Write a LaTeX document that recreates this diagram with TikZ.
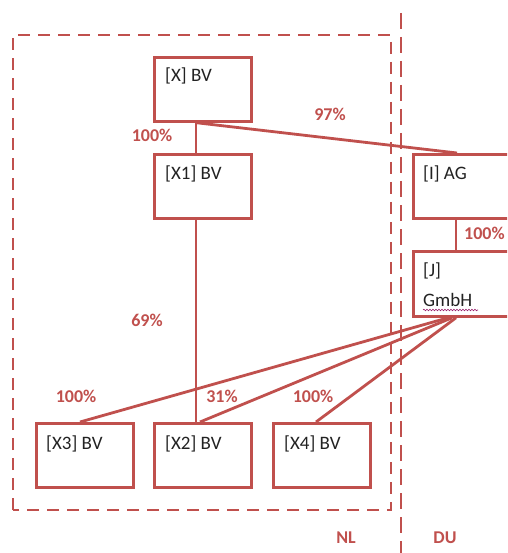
\documentclass[tikz,border=0pt]{standalone}
\usepackage{fontspec}
\setmainfont{Carlito}
\usetikzlibrary{decorations.pathmorphing,calc}
\definecolor{ored}{HTML}{C0504D}
\definecolor{txt}{HTML}{222222}
\begin{document}
\begin{tikzpicture}[x=1pt,y=-1pt,
  box/.style={draw=ored,line width=2.8pt,minimum width=97pt,minimum height=64pt,inner sep=0pt,anchor=north west},
  btext/.style={text=txt,font=\fontsize{19}{30}\selectfont,anchor=base west,inner sep=0pt},
  pct/.style={text=ored,font=\bfseries\fontsize{18}{20}\selectfont,inner sep=0pt},
  conn/.style={draw=ored,line width=2.8pt},
  region/.style={draw=ored,line width=2.8pt,dash pattern=on 12pt off 8pt}]
\useasboundingbox (0,0) rectangle (507,553);
\begin{scope}
\clip (0,0) rectangle (507,553);
% regions
\draw[region] (13,510) -- (13,35) -- (391,35) -- (391,510) -- cycle;
\draw[draw=ored,line width=2.9pt,dash pattern=on 16pt off 8pt] (401,13) -- (401,553);
% boxes
\node[box] (X) at (153,56) {};
\node[box] (X1) at (153,153) {};
\node[box,minimum width=110pt] (I) at (412,153) {};
\node[box,minimum width=110pt,minimum height=65pt] (J) at (412,250) {};
\node[box] (X3) at (35,422) {};
\node[box] (X2) at (153,422) {};
\node[box] (X4) at (272,422) {};
% connectors
\draw[conn] ($(X.south west)+(43,0)$) -- ($(X1.north west)+(43,0)$);
\draw[conn] ($(X.south west)+(44,0)$) -- ($(I.north west)+(45,0)$);
\draw[conn] ($(I.south west)+(44,0)$) -- ($(J.north west)+(44,0)$);
\draw[conn] ($(X1.south west)+(43,0)$) -- ($(X2.north west)+(43,0)$);
\draw[conn] ($(J.south west)+(36,0)$) -- ($(X3.north west)+(45,0)$);
\draw[conn] ($(J.south west)+(40,0)$) -- ($(X2.north west)+(47,0)$);
\draw[conn] ($(J.south west)+(44,0)$) -- ($(X4.north west)+(44,0)$);
\end{scope}
% texts
\node[btext] (tX) at (165,82) {[X] BV};
\node[btext] (tX1) at (165,179) {[X1] BV};
\node[btext] (tI) at (423,179) {[I] AG};
\node[btext] (tJ) at (423,276) {[J]};
\node[btext] (tJ2) at (423,306) {GmbH};
\node[btext] (tX3) at (46,449) {[X3] BV};
\node[btext] (tX2) at (165,449) {[X2] BV};
\node[btext] (tX4) at (284,449) {[X4] BV};
\draw[draw=violet!60!ored,line width=0.6pt,decorate,decoration={snake,amplitude=0.8pt,segment length=3pt}] (423,310) -- (478,310);
% labels
\node[pct] (p97) at (330,114) {97\%};
\node[pct] (p100a) at (152,135) {100\%};
\node[pct,anchor=west] (p100b) at (464,233) {100\%};
\node[pct] (p69) at (147,320) {69\%};
\node[pct] (p100c) at (76,396) {100\%};
\node[pct] (p31) at (222,396) {31\%};
\node[pct] (p100d) at (313,396) {100\%};
\node[pct] (nl) at (346,538) {NL};
\node[pct] (du) at (445,538) {DU};
\end{tikzpicture}
\end{document}
